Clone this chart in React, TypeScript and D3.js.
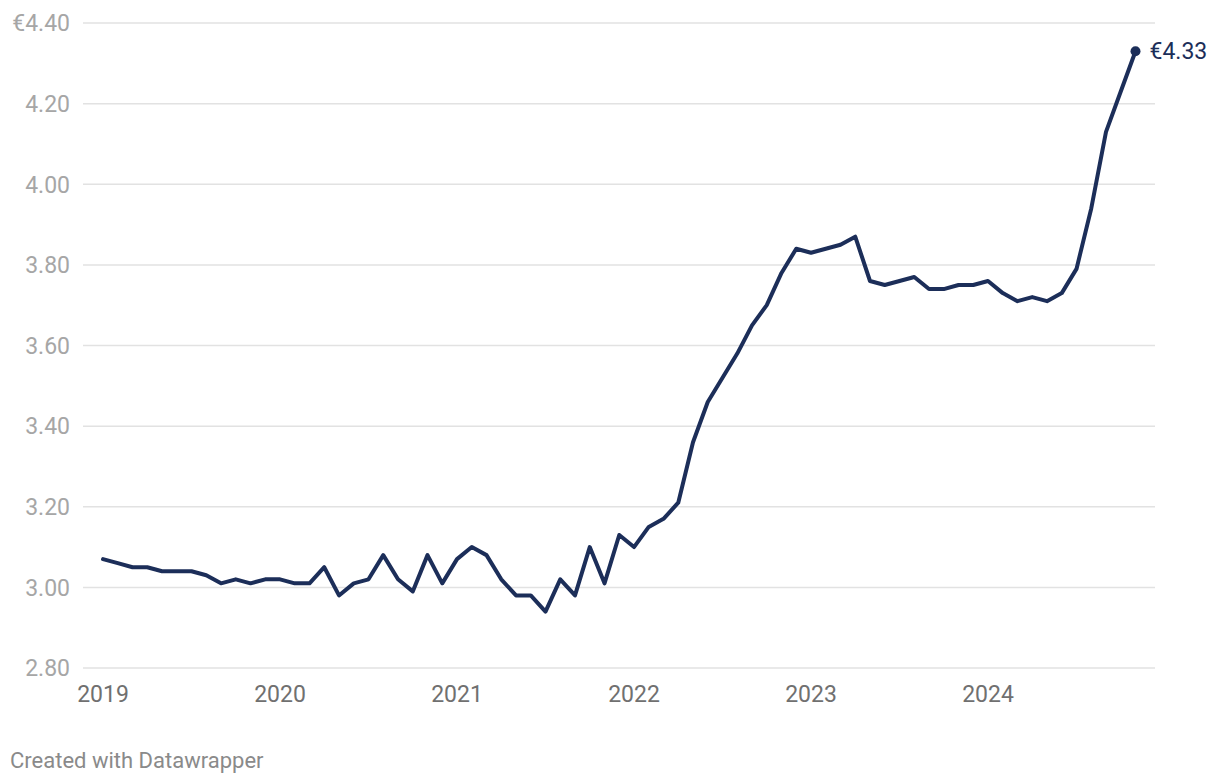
import React from "react";
import * as d3 from "d3";

const startYear = 2019;
const prices = [
  3.07, 3.06, 3.05, 3.05, 3.04, 3.04, 3.04, 3.03, 3.01, 3.02, 3.01, 3.02,
  3.02, 3.01, 3.01, 3.05, 2.98, 3.01, 3.02, 3.08, 3.02, 2.99, 3.08, 3.01,
  3.07, 3.10, 3.08, 3.02, 2.98, 2.98, 2.94, 3.02, 2.98, 3.10, 3.01, 3.13,
  3.10, 3.15, 3.17, 3.21, 3.36, 3.46, 3.52, 3.58, 3.65, 3.70, 3.78, 3.84,
  3.83, 3.84, 3.85, 3.87, 3.76, 3.75, 3.76, 3.77, 3.74, 3.74, 3.75, 3.75,
  3.76, 3.73, 3.71, 3.72, 3.71, 3.73, 3.79, 3.94, 4.13, 4.23, 4.33,
];
const yTicks = [2.8, 3.0, 3.2, 3.4, 3.6, 3.8, 4.0, 4.2, 4.4];
const xTickYears = [2019, 2020, 2021, 2022, 2023, 2024];

const W = 1220;
const H = 784;

export default function App() {
  const x = d3.scaleLinear().domain([0, 70]).range([103, 1135.5]);
  const y = d3.scaleLinear().domain([2.8, 4.4]).range([668, 23]);
  const data = prices.map((v, i) => ({ i, v }));
  const line = d3
    .line<{ i: number; v: number }>()
    .x((d) => x(d.i))
    .y((d) => y(d.v))
    .curve(d3.curveLinear);
  const last = data[data.length - 1];
  const font = "Roboto, 'Noto Sans', sans-serif";

  return (
    <svg
      width={W}
      height={H}
      style={{ position: "absolute", left: 0, top: 0, background: "#fff" }}
      fontFamily={font}
    >
      {yTicks.map((t) => (
        <g key={t}>
          <line x1={83} x2={1155} y1={y(t)} y2={y(t)} stroke="#e2e2e2" strokeWidth={1.5} />
          <text
            x={70}
            y={y(t)}
            dy="0.36em"
            textAnchor="end"
            fontSize={23}
            fill="#a6a6a6"
          >
            {(t === 4.4 ? "€" : "") + t.toFixed(2)}
          </text>
        </g>
      ))}
      {xTickYears.map((yr) => (
        <text
          key={yr}
          x={x((yr - startYear) * 12)}
          y={702}
          textAnchor="middle"
          fontSize={23}
          fill="#707070"
        >
          {yr}
        </text>
      ))}
      <path
        d={line(data) || ""}
        fill="none"
        stroke="#1c2e59"
        strokeWidth={4}
        strokeLinejoin="round"
        strokeLinecap="round"
      />
      <circle cx={x(last.i)} cy={y(last.v)} r={5} fill="#1c2e59" />
      <text
        x={x(last.i) + 14}
        y={y(last.v)}
        dy="0.36em"
        fontSize={23}
        fill="#1c2e59"
      >
        €{last.v.toFixed(2)}
      </text>
      <text x={10} y={768} fontSize={22} fill="#8a8a8a">
        Created with Datawrapper
      </text>
    </svg>
  );
}
